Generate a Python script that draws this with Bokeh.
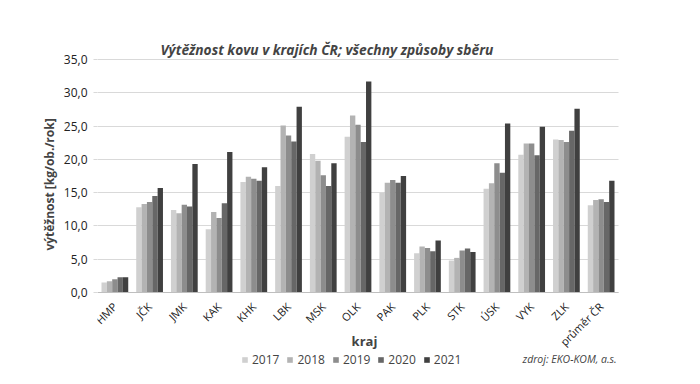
from math import pi
from bokeh.plotting import figure
from bokeh.models import (ColumnDataSource, Range1d, FixedTicker, Legend, LegendItem, Label,
                          LinearAxis)
from bokeh.transform import dodge
from bokeh.embed import file_html
from bokeh.resources import INLINE

kraje = ["HMP", "JČK", "JMK", "KAK", "KHK", "LBK", "MSK", "OLK", "PAK", "PLK", "STK", "ÚSK", "VYK", "ZLK", "průměr ČR"]
years = ["2017", "2018", "2019", "2020", "2021"]
v2017 = [1.5, 12.8, 12.4, 9.5, 16.6, 16.0, 20.8, 23.4, 15.0, 5.9, 4.8, 15.6, 20.7, 23.0, 13.1]
v2018 = [1.7, 13.3, 11.9, 12.1, 17.4, 25.1, 19.8, 26.6, 16.5, 6.9, 5.2, 16.4, 22.4, 22.9, 13.9]
v2019 = [2.0, 13.6, 13.2, 11.2, 17.1, 23.6, 17.6, 25.2, 16.9, 6.7, 6.3, 19.4, 22.4, 22.6, 14.0]
v2020 = [2.3, 14.5, 12.9, 13.4, 16.8, 22.7, 16.0, 22.6, 16.5, 6.2, 6.6, 18.0, 20.6, 24.3, 13.6]
v2021 = [2.3, 15.7, 19.3, 21.1, 18.8, 27.9, 19.4, 31.7, 17.5, 7.8, 6.1, 25.4, 24.9, 27.6, 16.8]
y_ticks = [0, 5, 10, 15, 20, 25, 30, 35]
colors = ["#d0d0d0", "#b3b3b3", "#8d8d8d", "#676767", "#404040"]

FONT = "Open Sans"
n = len(kraje)
xpos = [i + 0.5 for i in range(n)]
src = ColumnDataSource(dict(x=xpos, kraj=kraje, y2017=v2017, y2018=v2018, y2019=v2019,
                            y2020=v2020, y2021=v2021))

# frame covers the canvas right of the y axis; 34.73 px per region, 6.657 px per unit
W, H = 684, 368
LEFT = 97
ZERO_Y = 292
px_cat = 521 / n
px_val = 233 / 35
x_end = (W - LEFT) / px_cat
y_top = ZERO_Y / px_val
y_bot = -(H - ZERO_Y) / px_val

p = figure(width=W, height=H, x_range=Range1d(0, x_end), y_range=Range1d(y_bot, y_top),
           x_axis_type=None, output_backend="svg", toolbar_location=None,
           min_border_left=LEFT, min_border_right=0, min_border_top=0, min_border_bottom=0)
p.outline_line_color = None

w = 0.154
offsets = [-2 * w, -w, 0, w, 2 * w]
renderers = []
for yr, off, c in zip(years, offsets, colors):
    r = p.vbar(x=dodge("x", off), top="y" + yr, width=w, source=src,
               fill_color=c, line_color=None)
    renderers.append(r)

# y axis
yax = p.yaxis[0]
yax.ticker = FixedTicker(ticks=y_ticks)
yax.bounds = (0, 35)
yax.major_label_overrides = {t: f"{t:.1f}".replace(".", ",") for t in y_ticks}
yax.axis_line_color = None
yax.major_tick_line_color = "#d9d9d9"
yax.major_tick_out = 4
yax.major_tick_in = 0
yax.minor_tick_line_color = None
yax.major_label_text_font = FONT
yax.major_label_text_font_size = "12px"
yax.major_label_text_color = "#222222"
yax.major_label_standoff = 6
yax.axis_label = "výtěžnost [kg/ob./rok]"
yax.axis_label_text_font = FONT
yax.axis_label_text_font_style = "bold"
yax.axis_label_text_font_size = "12px"
yax.axis_label_standoff = 3

g = p.ygrid[0]
g.grid_line_color = "#d9d9d9"
if "cross_bounds" in g.properties():
    g.cross_bounds = (0, n)
else:
    g.grid_line_color = None
    p.segment(x0=0, x1=n, y0=y_ticks, y1=y_ticks, line_color="#d9d9d9", level="underlay")

# x axis fixed at y = 0
xax = LinearAxis(fixed_location=0, bounds=(0, n), ticker=FixedTicker(ticks=xpos),
                 major_label_overrides={x: k for x, k in zip(xpos, kraje)})
xax.axis_line_color = "#bfbfbf"
xax.major_tick_line_color = None
xax.minor_tick_line_color = None
xax.major_label_orientation = pi / 4
xax.major_label_text_font = FONT
xax.major_label_text_font_size = "11px"
xax.major_label_text_color = "#222222"
xax.major_label_standoff = 6
p.add_layout(xax, "below")

legend = Legend(items=[LegendItem(label=yr, renderers=[r]) for yr, r in zip(years, renderers)],
                orientation="horizontal", location=(144, 0),
                glyph_width=7, glyph_height=7, label_standoff=4, spacing=7,
                padding=0, margin=0, border_line_color=None, background_fill_alpha=0,
                label_text_font=FONT, label_text_font_size="12px", label_height=14)
p.add_layout(legend, "center")

title = Label(x=63, y=H - 49, x_units="screen", y_units="screen",
              text="Výtěžnost kovu v krajích ČR; všechny způsoby sběru",
              text_font=FONT, text_font_style="bold italic", text_font_size="13.75px",
              text_align="left", text_baseline="middle")
p.add_layout(title)
kraj_lbl = Label(x=267, y=H - 340, x_units="screen", y_units="screen", text="kraj",
                 text_font=FONT, text_font_style="bold", text_font_size="13px",
                 text_align="center", text_baseline="middle")
p.add_layout(kraj_lbl)
source_lbl = Label(x=425, y=H - 358, x_units="screen", y_units="screen",
                   text="zdroj: EKO-KOM, a.s.", text_font=FONT, text_font_style="italic",
                   text_font_size="10.5px", text_align="left", text_baseline="middle")
p.add_layout(source_lbl)

open("out.html", "w").write(file_html(p, INLINE))
